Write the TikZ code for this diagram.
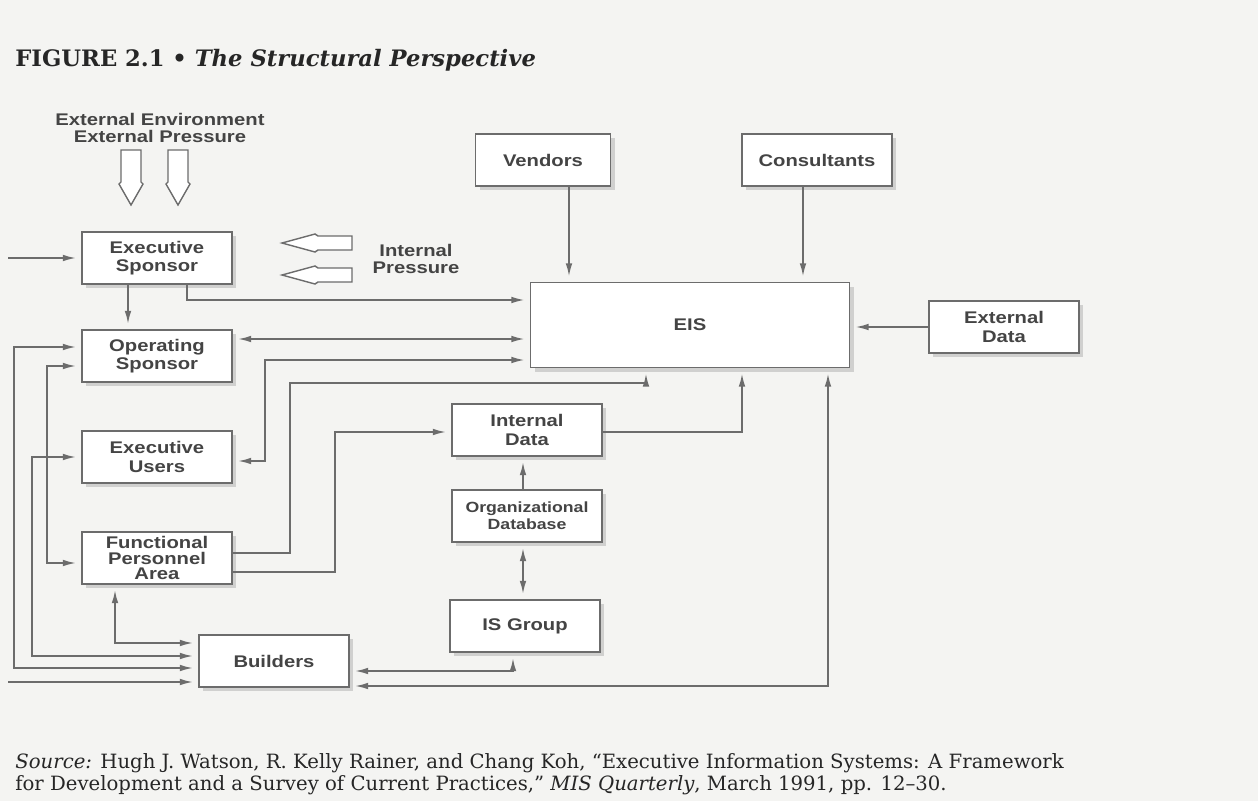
\documentclass[tikz,border=0pt]{standalone}
\usepackage{fontspec}
\setmainfont{DejaVu Serif}
\newfontfamily\boxfont[FakeStretch=1.2]{Liberation Sans}
\usepackage{tikz}
\usetikzlibrary{positioning,arrows.meta,shadows}

\definecolor{paper}{HTML}{F4F4F2}
\definecolor{inkgray}{HTML}{444444}
\definecolor{linegray}{HTML}{6C6C6C}

\tikzset{
  box/.style={draw=linegray, fill=white, line width=0.9pt, align=center,
    minimum width=3cm, minimum height=1.04cm, inner sep=2pt,
    font=\boxfont\bfseries\fontsize{9.6}{10.5}\selectfont, text=inkgray,
    drop shadow={shadow xshift=2.5pt, shadow yshift=-2.5pt, opacity=0.3, fill=gray}},
  plainlabel/.style={align=center, text=inkgray,
    font=\boxfont\bfseries\fontsize{9.6}{10}\selectfont},
  oneway/.style={draw=linegray, line width=0.95pt, -{Latex[length=7.5pt,width=3.8pt]}, shorten >=3pt},
  twoway/.style={oneway, {Latex[length=7.5pt,width=3.8pt]}-{Latex[length=7.5pt,width=3.8pt]}, shorten <=3pt},
  hollow/.style={draw=linegray, fill=white, line width=0.8pt, line join=miter}
}

\begin{document}
\begin{tikzpicture}[x=0.02cm, y=-0.02cm]

\path[use as bounding box, fill=paper] (0,0) rectangle (1258,801);

% title
\node[anchor=west, inner sep=0pt, font=\bfseries\fontsize{12.9}{15}\selectfont, text=black!85] (title) at (15,60)
  {FIGURE 2.1 • \textit{The Structural Perspective}};

% pressures
\node[plainlabel] (extenv) at (160,128) {External Environment\\External Pressure};
\foreach \cx in {131,178}
  \draw[hollow] (\cx-10,150) -- (\cx+10,150) -- (\cx+10,182) -- (\cx+12,184)
    -- (\cx,205) -- (\cx-12,184) -- (\cx-10,182) -- cycle;
\foreach \cy in {243,275}
  \draw[hollow] (352,\cy-7) -- (318,\cy-7) -- (315,\cy-9) -- (282,\cy)
    -- (315,\cy+9) -- (318,\cy+7) -- (352,\cy+7) -- cycle;
\node[plainlabel] (intpr) at (416,259) {Internal\\Pressure};

% boxes
\node[box] (exsp) at (157,258) {Executive\\Sponsor};
\node[box] (opsp) at (157,356) {Operating\\Sponsor};
\node[box] (exus) at (157,457) {Executive\\Users};
\node[box, font=\boxfont\bfseries\fontsize{9.6}{8.9}\selectfont, inner sep=0pt] (fpa) at (157,558)
  {Functional\\Personnel\\Area};
\node[box] (build) at (274,661) {Builders};
\node[box] (intd) at (527,430) {Internal\\Data};
\node[box, font=\boxfont\bfseries\fontsize{8.4}{9.5}\selectfont] (orgdb) at (527,516) {Organizational\\Database};
\node[box] (isg) at (525,626) {IS Group};
\node[box, minimum width=2.7cm] (vend) at (543,160) {Vendors};
\node[box] (cons) at (817,160) {Consultants};
\node[box, minimum width=6.38cm, minimum height=1.7cm] (eis) at (690,325) {EIS};
\node[box] (extd) at (1004,327) {External\\Data};

% free ends at the left edge
\coordinate (inA) at (8,258);
\coordinate (inB) at (8,682);

% connectors
\draw[oneway] (inA) -- (exsp.west);
\draw[oneway] (exsp.south -| 128,0) -- (opsp.north -| 128,0);
\draw[oneway] (exsp.south -| 187,0) |- (eis.west |- 0,300);
\draw[twoway] (opsp.east |- 0,339) -- (eis.west |- 0,339);
\draw[twoway] (exus.east |- 0,461) -| (265,360) -- (eis.west |- 0,360);
\draw[oneway] (fpa.east |- 0,553) -| (290,383) -| (eis.south -| 646,0);
\draw[oneway] (fpa.east |- 0,572) -| (335,432) -- (intd.west |- 0,432);
\draw[oneway] (intd.east |- 0,432) -| (eis.south -| 742,0);
\draw[oneway] (orgdb.north -| 523,0) -- (intd.south -| 523,0);
\draw[twoway] (orgdb.south -| 523,0) -- (isg.north -| 523,0);
\draw[twoway] (build.east |- 0,671) -| (isg.south -| 513,0);
\draw[twoway] (build.east |- 0,686) -| (eis.south -| 828,0);
\draw[twoway] (fpa.south -| 115,0) |- (build.west |- 0,643);
\draw[twoway] (exus.west |- 0,457) -| (32,656) -- (build.west |- 0,656);
\draw[twoway] (opsp.west |- 0,347) -| (14,668) -- (build.west |- 0,668);
\draw[twoway] (opsp.west |- 0,366) -| (47,563) -- (fpa.west |- 0,563);
\draw[oneway] (inB) -- (build.west |- inB);
\draw[oneway] (vend.south -| 569,0) -- (eis.north -| 569,0);
\draw[oneway] (cons.south -| 803,0) -- (eis.north -| 803,0);
\draw[oneway] (extd.west) -- (eis.east |- extd.west);

% source line
\node[anchor=north west, align=left, inner sep=0pt, text=black!85,
  font=\fontsize{11.2}{12.4}\selectfont] (src) at (15,753)
  {\textit{Source:} Hugh J. Watson, R. Kelly Rainer, and Chang Koh, “Executive Information Systems: A Framework\\
   for Development and a Survey of Current Practices,” \textit{MIS Quarterly}, March 1991, pp. 12–30.};

\end{tikzpicture}
\end{document}
